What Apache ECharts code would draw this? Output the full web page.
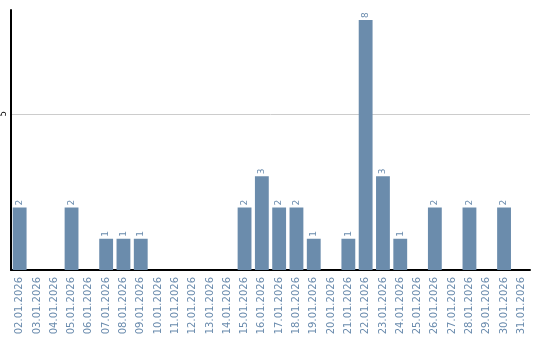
<!DOCTYPE html>
<html><head><meta charset="utf-8">
<script src="https://cdn.jsdelivr.net/npm/echarts@6/dist/echarts.min.js"></script>
<style>html,body{margin:0;padding:0;background:#fff}#c{width:540px;height:340px}</style>
</head><body><div id="c"></div>
<script>
const categories = ["02.01.2026","03.01.2026","04.01.2026","05.01.2026","06.01.2026","07.01.2026","08.01.2026","09.01.2026","10.01.2026","11.01.2026","12.01.2026","13.01.2026","14.01.2026","15.01.2026","16.01.2026","17.01.2026","18.01.2026","19.01.2026","20.01.2026","21.01.2026","22.01.2026","23.01.2026","24.01.2026","25.01.2026","26.01.2026","27.01.2026","28.01.2026","29.01.2026","30.01.2026","31.01.2026"];
const values = [2,0,0,2,0,1,1,1,0,0,0,0,0,2,3,2,2,1,0,1,8,3,1,0,2,0,2,0,2,0];
const yTicks = [5];

const chart = echarts.init(document.getElementById('c'), null, {renderer:'canvas'});
chart.setOption({
  animation:false,
  grid:{left:10,right:10,top:10,bottom:70,containLabel:false},
  xAxis:{
    type:'category', data:categories,
    axisLine:{lineStyle:{color:'#000',width:2}},
    axisTick:{show:false},
    axisLabel:{rotate:90,interval:0,color:'#6a8bad',fontFamily:'DejaVu Sans',fontSize:10,margin:7}
  },
  yAxis:{
    type:'value', min:0, max:8.32, interval:5,
    axisLine:{show:true,lineStyle:{color:'#000',width:2}},
    axisTick:{show:false},
    splitLine:{showMaxLine:false,showMinLine:false,lineStyle:{color:'#cccccc',width:1}},
    axisLabel:{rotate:90,color:'#000',fontFamily:'DejaVu Sans',fontSize:8,margin:3,
      formatter:v=>yTicks.includes(v)?String(v):''}
  },
  series:[{
    type:'bar', data:values.map(v=>v===0?null:v), barCategoryGap:'20%',
    itemStyle:{color:'#6b8cac'},
    label:{show:true,position:'top',rotate:90,align:'left',verticalAlign:'middle',distance:2,color:'#6a8bad',fontFamily:'DejaVu Sans',fontSize:9}
  }]
});
</script></body></html>
